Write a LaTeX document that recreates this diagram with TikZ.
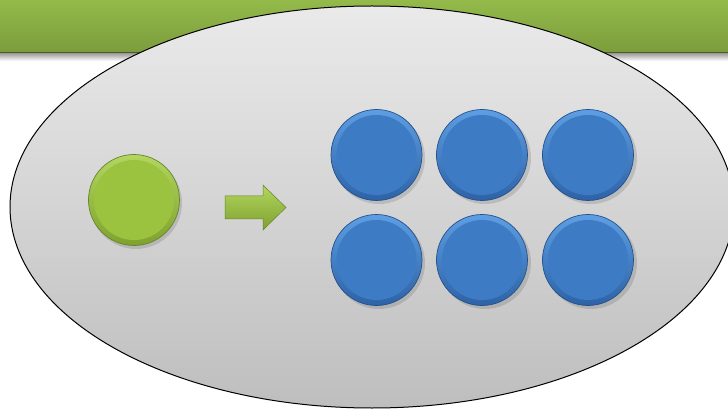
\documentclass[tikz,border=0pt]{standalone}
\usetikzlibrary{shapes.geometric,arrows.meta}
\definecolor{hdrtop}{HTML}{93BA4A}
\definecolor{hdrbot}{HTML}{7C9C3C}
\definecolor{fieldtop}{HTML}{EAEAEA}
\definecolor{fieldbot}{HTML}{BEBEBE}
\definecolor{bluerimtop}{HTML}{5E9EE2}
\definecolor{bluerimbot}{HTML}{2E62A6}
\definecolor{blueface}{HTML}{3D7BC4}
\definecolor{blueedge}{HTML}{23518C}
\definecolor{greenrimtop}{HTML}{B2D660}
\definecolor{greenrimbot}{HTML}{7FA12E}
\definecolor{greenface}{HTML}{9CC340}
\definecolor{greenedge}{HTML}{65852A}
\tikzset{
  ballbase/.style={circle, minimum size=91pt, inner sep=0pt, line width=0.7pt},
  blueball/.style={ballbase, draw=blueedge, top color=bluerimtop, bottom color=bluerimbot,
    path picture={\fill[blueface] (path picture bounding box.center) circle (40pt);}},
  greenball/.style={ballbase, draw=greenedge, top color=greenrimtop, bottom color=greenrimbot,
    path picture={\fill[greenface] (path picture bounding box.center) circle (40pt);}},
  ballshadow/.style={fill=black, opacity=0.12},
  fieldstyle/.style={ellipse, draw=black, line width=1pt, minimum width=724pt, minimum height=402pt,
    inner sep=0pt, top color=fieldtop, bottom color=fieldbot},
  arrowshape/.style={draw=greenedge, line width=0.5pt, top color=greenrimtop, bottom color=greenrimbot}
}
\begin{document}
\begin{tikzpicture}[x=1pt,y=-1pt]
\useasboundingbox (0,0) rectangle (728,414);
\clip (0,0) rectangle (728,414);
% header bar
\shade[top color=hdrtop, bottom color=hdrbot] (0,0) rectangle (728,53);
\fill[black!40!hdrbot] (0,52) rectangle (728,54);
\shade[top color=black!35, bottom color=white] (0,54) rectangle (728,61);
% field ellipse
\node[fieldstyle] (field) at (372,207) {};
% shadows of balls
\foreach \x/\y in {136/203, 379/158, 485/158, 591/158, 379/263, 485/263, 591/263}
  \fill[ballshadow] (\x,\y) circle (46pt);
% green source ball
\node[greenball] (src) at (134,200) {};
% arrow
\coordinate (arrowtail) at (225,207.5);
\path[arrowshape] (225,196) -- (263,196) -- (263,185) -- (286,207.5) -- (263,230) -- (263,219) -- (225,219) -- cycle;
% blue balls
\node[blueball] (b1) at (376.5,155) {};
\node[blueball] (b2) at (482,155) {};
\node[blueball] (b3) at (588,155) {};
\node[blueball] (b4) at (376.5,260) {};
\node[blueball] (b5) at (482,260) {};
\node[blueball] (b6) at (588,260) {};
\end{tikzpicture}
\end{document}
